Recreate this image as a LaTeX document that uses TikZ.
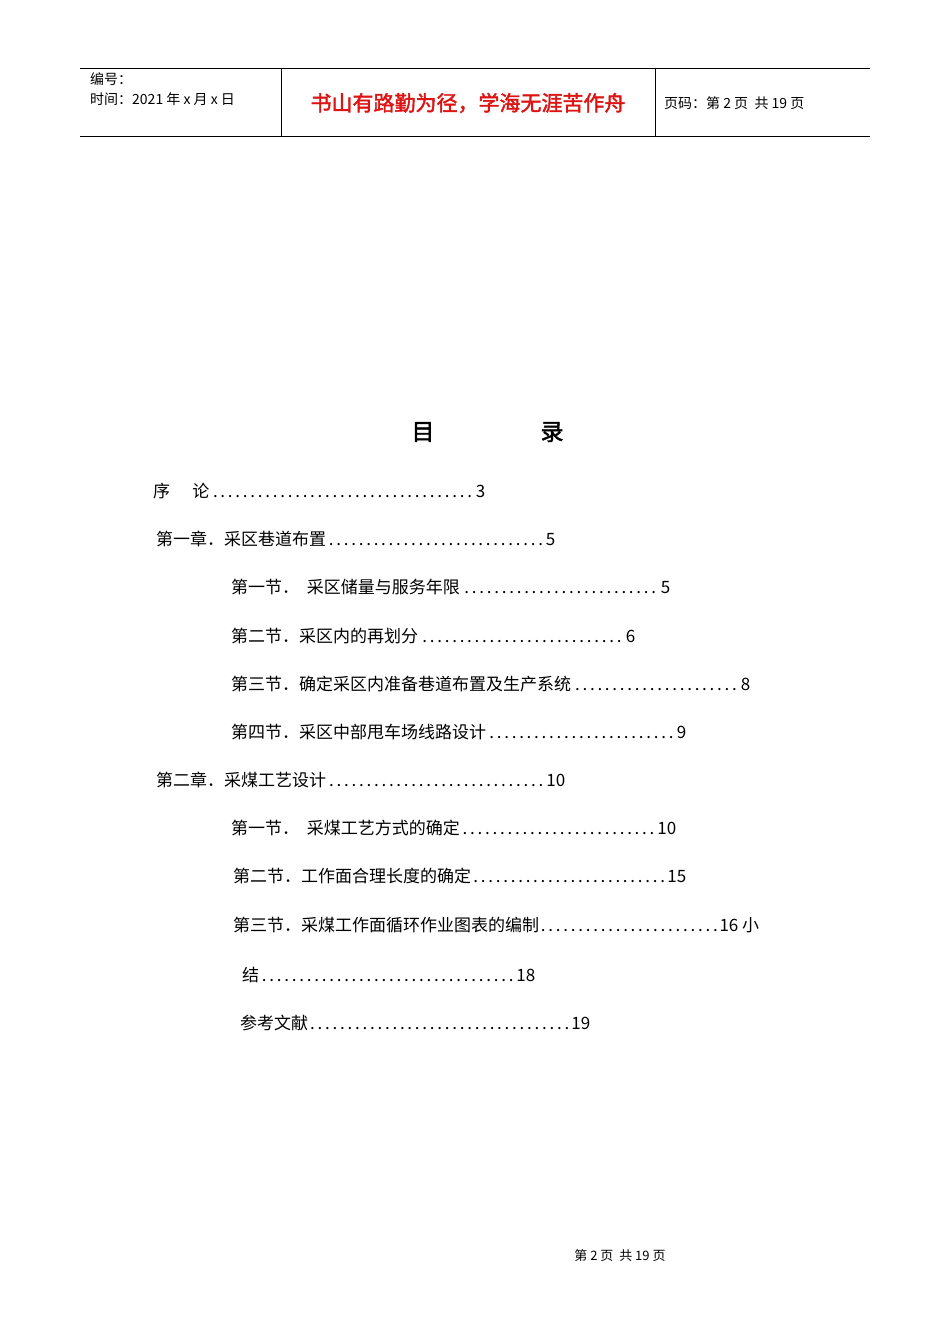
\documentclass[tikz,border=0pt]{standalone}
\usepackage{fontspec}
\setmainfont{Noto Sans CJK SC}
\newfontfamily\cjkb[FakeBold=2]{Noto Sans CJK SC}
\definecolor{hred}{RGB}{220,20,20}
\newcommand{\tocln}[5]{\node[anchor=west,font=\fontsize{17}{17}\selectfont,inner sep=0] (#5) at (#1,#2) {\makebox[#3pt][l]{#4}};}
\begin{document}
\begin{tikzpicture}[x=1pt,y=-1pt]
\useasboundingbox (0,0) rectangle (950,1344);
\tikzset{rule/.style={line width=0.8pt}}
\draw[rule] (80,68) -- (870,68);
\draw[rule] (80,136) -- (870,136);
\draw[rule] (281,68) -- (281,136);
\draw[rule] (655,68) -- (655,136);
\node[anchor=west,inner sep=0,font=\fontsize{14}{14}\selectfont] (h1) at (90,79) {编号：};
\node[anchor=west,inner sep=0,font=\fontsize{14}{14}\selectfont] (h2) at (90,99) {时间：2021 年 x 月 x 日};
\node[inner sep=0,text=hred,font=\cjkb\fontsize{21}{21}\selectfont] (h3) at (468,103) {书山有路勤为径，学海无涯苦作舟};
\node[anchor=west,inner sep=0,font=\fontsize{14}{14}\selectfont] (h4) at (664,103) {页码：第 2 页\ \ 共 19 页};
\node[inner sep=0,font=\cjkb\fontsize{23}{23}\selectfont] (t1) at (423,432) {目};
\node[inner sep=0,font=\cjkb\fontsize{23}{23}\selectfont] (t2) at (552,432) {录};
\tocln{153}{491}{332}{序\hspace{1.3em}论\dotfill 3}{a1}
\tocln{156}{539}{399}{第一章．采区巷道布置\dotfill 5}{a2}
\tocln{231}{587}{439}{第一节．\ \ 采区储量与服务年限\dotfill 5}{a3}
\tocln{231}{636}{404}{第二节．采区内的再划分\dotfill 6}{a4}
\tocln{231}{684}{519}{第三节．确定采区内准备巷道布置及生产系统\dotfill 8}{a5}
\tocln{231}{732}{455}{第四节．采区中部甩车场线路设计\dotfill 9}{a6}
\tocln{156}{780}{409}{第二章．采煤工艺设计\dotfill 10}{a7}
\tocln{231}{828}{445}{第一节．\ \ 采煤工艺方式的确定\dotfill 10}{a8}
\tocln{233}{876}{453}{第二节．工作面合理长度的确定\dotfill 15}{a9}
\tocln{233}{925}{526}{第三节．采煤工作面循环作业图表的编制\dotfill 16 小}{a10}
\tocln{242}{975}{293}{结\dotfill 18}{a11}
\tocln{240}{1023}{350}{参考文献\dotfill 19}{a12}
\node[inner sep=0,font=\fontsize{13}{13}\selectfont] (f) at (620,1256) {第\ 2\ 页\ \ 共\ 19\ 页};
\end{tikzpicture}
\end{document}
